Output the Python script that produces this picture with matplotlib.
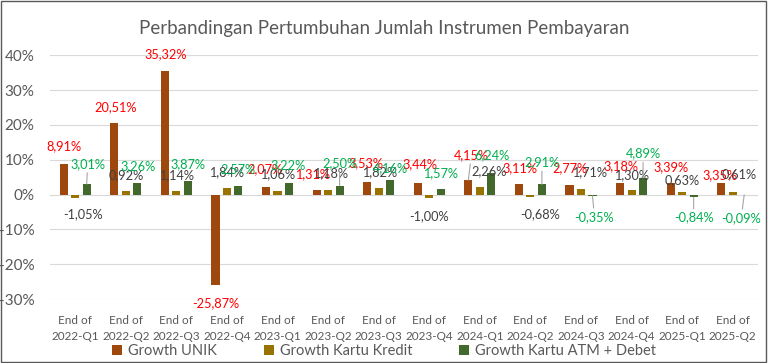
import numpy as np
import matplotlib.pyplot as plt
from matplotlib.patches import Rectangle

plt.rcParams['font.family'] = ['Lato', 'DejaVu Sans']

quarters = ['2022-Q1', '2022-Q2', '2022-Q3', '2022-Q4', '2023-Q1', '2023-Q2', '2023-Q3',
            '2023-Q4', '2024-Q1', '2024-Q2', '2024-Q3', '2024-Q4', '2025-Q1', '2025-Q2']
growth_unik = [8.91, 20.51, 35.32, -25.87, 2.07, 1.31, 3.53, 3.44, 4.15, 3.11, 2.77, 3.18, 3.39, 3.35]
growth_kredit = [-1.05, 0.92, 1.14, 1.84, 1.06, 1.18, 1.82, -1.00, 2.26, -0.68, 1.71, 1.30, 0.63, 0.61]
growth_atm = [3.01, 3.26, 3.87, 2.57, 3.22, 2.50, 4.16, 1.57, 6.24, 2.91, -0.35, 4.89, -0.84, -0.09]

# label offsets (pixels) from bar end, as placed in the original chart
off_unik = [(0, -17), (1, -16), (1, -17), (0, 18), (-1, -18), (-4, -16), (-1, -19),
            (2, -18), (3, -25), (1, -16), (0, -17), (1, -17), (0, -16), (-1, -8)]
off_kredit = [(8, 16), (0, -16), (0, -15), (0, -16), (0, -17), (2, -17), (1, -16),
              (0, 18), (9, -16), (10, 17), (9, -16), (0, -15), (0, -12), (6, -18)]
off_atm = [(1, -20), (1, -17), (0, -17), (0, -16), (-1, -18), (0, -23), (0, -12),
           (0, -16), (1, -18), (0, -22), (2, 21), (0, -24), (0, 20), (-3, 23)]

series = [
    ('Growth UNIK', growth_unik, off_unik, '#9E480E', '#FF0000', -0.227),
    ('Growth Kartu Kredit', growth_kredit, off_kredit, '#997300', '#404040', 0.0),
    ('Growth Kartu ATM + Debet', growth_atm, off_atm, '#43682B', '#00B050', 0.227),
]

fig = plt.figure(figsize=(7.68, 3.63), dpi=100)
ax = fig.add_axes([0.065, 0.176, 0.922, 0.672])
x = np.arange(len(quarters))

for name, vals, offs, color, lcolor, shift in series:
    ax.bar(x + shift, vals, width=0.16, color=color, label=name, zorder=3)
    for xi, v, (dx, dy) in zip(x + shift, vals, offs):
        txt = f'{v:.2f}%'.replace('.', ',')
        arrow = None
        if abs(dy) >= 19.5:
            arrow = dict(arrowstyle='-', color='#A6A6A6', lw=0.8, shrinkA=0, shrinkB=0)
        ax.annotate(txt, xy=(xi, v), xytext=(dx, -dy), textcoords='offset pixels',
                    ha='center', va='center', fontsize=9.2, color=lcolor,
                    arrowprops=arrow, zorder=4)

ax.set_xlim(-0.5, len(quarters) - 0.5)
ax.set_ylim(-30, 40)
ax.set_yticks(range(-30, 41, 10))
ax.set_yticklabels([f'{t}%' for t in range(-30, 41, 10)])
ax.set_xticks(x)
ax.set_xticklabels(['End of\n' + q for q in quarters], fontsize=8.5, color='#595959',
                   linespacing=1.6)
ax.tick_params(axis='y', labelsize=11, labelcolor='#595959', length=0, pad=11)
ax.tick_params(axis='x', length=0, pad=11.5)
ax.grid(axis='y', color='#D9D9D9', lw=0.8, zorder=0)
for s in ax.spines.values():
    s.set_visible(False)

fig.suptitle('Perbandingan Pertumbuhan Jumlah Instrumen Pembayaran', y=0.945,
             fontsize=13.5, color='#595959')
fig.legend(loc='center', bbox_to_anchor=(0.5, 0.032), ncol=3, frameon=False,
           fontsize=10.5, labelcolor='#595959', handlelength=0.7, handleheight=0.7,
           handletextpad=0.4, columnspacing=3.2)
fig.patches.append(Rectangle((0.001, 0.002), 0.997, 0.995, transform=fig.transFigure,
                             fill=False, edgecolor='#595959', lw=1))

fig.savefig('out.png', dpi=100)
